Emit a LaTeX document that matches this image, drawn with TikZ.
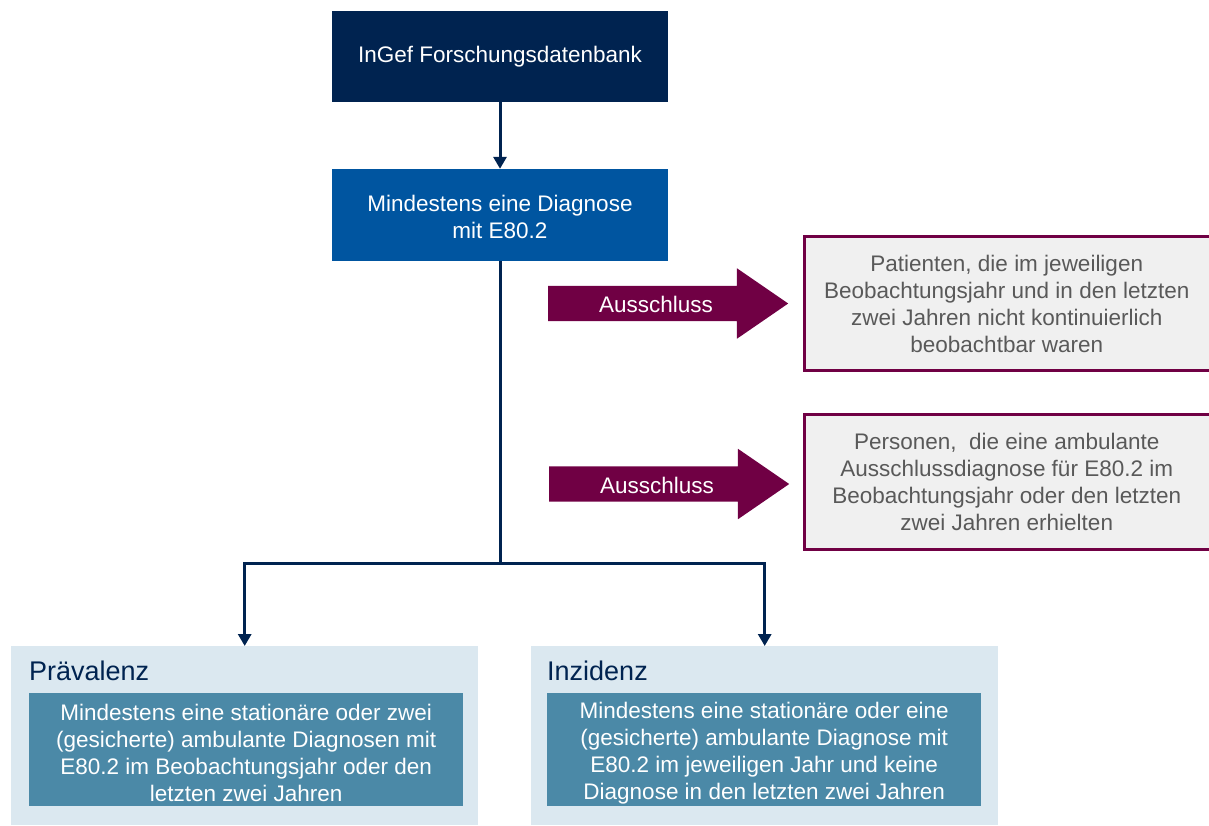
\documentclass[tikz,border=0pt]{standalone}
\usepackage{fontspec}
\setmainfont{Liberation Sans}
\usetikzlibrary{arrows.meta,shapes.arrows}
\definecolor{navy}{HTML}{002350}
\definecolor{midblue}{HTML}{0055A0}
\definecolor{plum}{HTML}{700044}
\definecolor{greybg}{HTML}{F0F0F0}
\definecolor{greytxt}{HTML}{595959}
\definecolor{lightbluebg}{HTML}{DBE8F0}
\definecolor{tealbox}{HTML}{4B89A7}
\begin{document}
\begin{tikzpicture}[x=1pt,y=-1pt,
  txt/.style={font=\fontsize{22.5}{27}\selectfont, align=center, inner sep=0pt},
  topbox/.style={txt, fill=navy, text=white, minimum width=336pt, minimum height=91pt},
  exclbox/.style={txt, fill=greybg, text=greytxt, minimum width=404.5pt, minimum height=134pt},
  exclborder/.style={draw=plum, line width=3pt},
  exclarrow/.style={single arrow, fill=plum, draw=none, anchor=tail, minimum height=240pt,
    inner xsep=0pt, inner ysep=17.5pt, single arrow head extend=17.5pt, single arrow tip angle=69},
  arrowlabel/.style={txt, text=white},
  outerbox/.style={fill=lightbluebg, inner sep=0pt, anchor=north west, minimum width=467pt, minimum height=179pt},
  innerbox/.style={txt, fill=tealbox, text=white, anchor=north west, minimum width=434pt, minimum height=113pt},
  titletext/.style={font=\fontsize{27}{32}\selectfont, text=navy, inner sep=0pt, anchor=base west},
  line/.style={draw=navy, line width=3pt},
  conn/.style={line, -{Triangle[width=13pt,length=12pt]}}
]
\useasboundingbox (0,0) rectangle (1209,825);

% main flow
\node[topbox] (db) at (500,56.5) {InGef Forschungsdatenbank};
\node[topbox, fill=midblue, minimum height=92pt] (dx) at (500,215) {};
\node[txt, text=white] (dxt) at ([yshift=-2pt]dx.center) {Mindestens eine Diagnose\\mit E80.2};
\draw[conn] (db.south) -- (dx.north);

% exclusions
\node[exclarrow] (a1) at (548,303.5) {};
\node[arrowlabel] (a1t) at (656,304) {Ausschluss};
\node[exclarrow] (a2) at (549,484) {};
\node[arrowlabel] (a2t) at (657,485) {Ausschluss};

\node[exclbox] (e1) at (1006.75,303.5) {Patienten, die im jeweiligen\\Beobachtungsjahr und in den letzten\\zwei Jahren nicht kontinuierlich\\beobachtbar waren};
\draw[exclborder] (e1.north east) -- (e1.north west) -- (e1.south west) -- (e1.south east);
\node[exclbox] (e2) at (1006.75,482) {Personen,~ die eine ambulante\\Ausschlussdiagnose für E80.2 im\\Beobachtungsjahr oder den letzten\\zwei Jahren erhielten};
\draw[exclborder] (e2.north east) -- (e2.north west) -- (e2.south west) -- (e2.south east);

% bottom boxes
\node[outerbox] (pv) at (11,646) {};
\node[titletext] (pvt) at (29,680) {Prävalenz};
\node[innerbox] (pvc) at (29,693) {};
\node[txt, text=white] (pvx) at ([yshift=-3pt]pvc.center) {Mindestens eine stationäre oder zwei\\(gesicherte) ambulante Diagnosen mit\\E80.2 im Beobachtungsjahr oder den\\letzten zwei Jahren};

\node[outerbox] (iz) at (531,646) {};
\node[titletext] (izt) at (547,680) {Inzidenz};
\node[innerbox] (izc) at (547,693) {};
\node[txt, text=white] (izx) at ([yshift=-3pt]izc.center) {Mindestens eine stationäre oder eine\\(gesicherte) ambulante Diagnose mit\\E80.2 im jeweiligen Jahr und keine\\Diagnose in den letzten zwei Jahren};

% split
\coordinate (split) at (500,563);
\draw[line] (dx.south) -- (split);
\draw[conn] (split) -| (pv.north);
\draw[conn] (split) -| (iz.north);
\end{tikzpicture}
\end{document}
